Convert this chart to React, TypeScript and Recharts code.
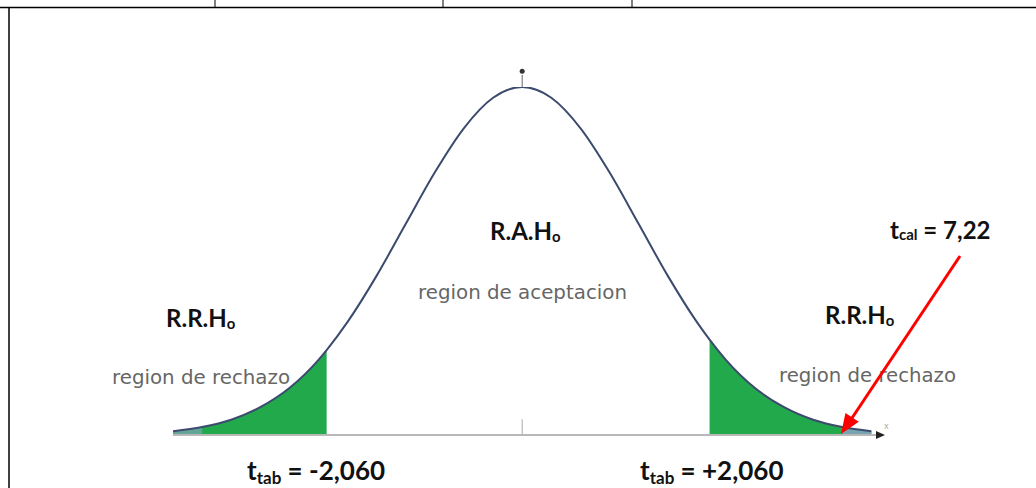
import { ComposedChart, Area, Line, XAxis, YAxis, ReferenceLine, ReferenceDot } from "recharts";

// z positions along the axis (in standard deviations) and the curve height
const zValues = [-3, -2.75, -2.5, -2.25, -2, -1.75, -1.68, -1.5, -1.25, -1, -0.75, -0.5, -0.25, 0, 0.25, 0.5, 0.75, 1, 1.25, 1.5, 1.61, 1.75, 2, 2.25, 2.5, 2.75, 3];
const density = [0.011, 0.023, 0.044, 0.08, 0.135, 0.216, 0.244, 0.325, 0.458, 0.607, 0.755, 0.882, 0.969, 1, 0.969, 0.882, 0.755, 0.607, 0.458, 0.325, 0.274, 0.216, 0.135, 0.08, 0.044, 0.023, 0.011];
const axisTicks = [-2, -1, 0, 1, 2];

// where the shaded rejection regions start
const leftCut = -1.68;
const rightCut = 1.61;
const farCut = 2.75;

const data = zValues.map((z, i) => ({
  z,
  y: density[i],
  left: z <= leftCut ? density[i] : null,
  right: z >= rightCut ? density[i] : null,
  farLeft: z <= -farCut ? density[i] : null,
  farRight: z >= farCut ? density[i] : null,
}));

const GREEN = "#22a94b";
const CURVE = "#3c4a6e";
const BOLD = "Lato, 'Open Sans', sans-serif";
const GRAY_FONT = "'DejaVu Sans', Verdana, sans-serif";

function arrowHead(x1: number, y1: number, x2: number, y2: number, len: number, half: number) {
  const dx = x2 - x1;
  const dy = y2 - y1;
  const d = Math.hypot(dx, dy);
  const ux = dx / d;
  const uy = dy / d;
  const bx = x2 - ux * len;
  const by = y2 - uy * len;
  return `${x2},${y2} ${bx - uy * half},${by + ux * half} ${bx + uy * half},${by - ux * half}`;
}

function RH({ x, y, text, size = 24 }: { x: number; y: number; text: string; size?: number }) {
  return (
    <text x={x} y={y} fontFamily={BOLD} fontWeight={700} fontSize={size} fill="#111">
      {text}
      <tspan fontSize={size * 0.62} dy={2}>o</tspan>
    </text>
  );
}

function TTab({ x, y, value }: { x: number; y: number; value: string }) {
  return (
    <text x={x} y={y} fontFamily={BOLD} fontWeight={700} fontSize={26} fill="#111">
      t
      <tspan fontSize={17} dy={4}>tab</tspan>
      <tspan dy={-4}>{` = ${value}`}</tspan>
    </text>
  );
}

export default function App() {
  return (
    <div style={{ position: "absolute", left: 0, top: 0, width: 1036, height: 488, background: "#fff", overflow: "hidden" }}>
      <ComposedChart width={1036} height={488} data={data} margin={{ top: 87, right: 153, bottom: 23, left: 173 }}>
        <XAxis
          type="number"
          dataKey="z"
          domain={[-3, 3.1]}
          ticks={axisTicks}
          tick={false}
          tickSize={4}
          tickLine={{ stroke: "#888" }}
          axisLine={{ stroke: "#b8b8b8", strokeWidth: 2 }}
          height={30}
          allowDataOverflow
        />
        <YAxis hide domain={[0, 1]} allowDataOverflow />
        <Area dataKey="left" type="monotone" stroke="none" fill={GREEN} fillOpacity={1} isAnimationActive={false} />
        <Area dataKey="right" type="monotone" stroke="none" fill={GREEN} fillOpacity={1} isAnimationActive={false} />
        <Area dataKey="farLeft" type="monotone" stroke="none" fill="#8ea3cc" fillOpacity={0.6} isAnimationActive={false} />
        <Area dataKey="farRight" type="monotone" stroke="none" fill="#8ea3cc" fillOpacity={0.8} isAnimationActive={false} />
        <Line dataKey="y" type="monotone" stroke={CURVE} strokeWidth={2} dot={false} isAnimationActive={false} />
        <ReferenceLine segment={[{ x: 0, y: 0 }, { x: 0, y: 0.045 }]} stroke="#aaa" ifOverflow="visible" />
        <ReferenceLine segment={[{ x: 0, y: 1 }, { x: 0, y: 1.035 }]} stroke="#666" ifOverflow="visible" />
        <ReferenceDot x={0} y={1.045} r={2.5} fill="#333" stroke="none" ifOverflow="visible" />
        <ReferenceDot
          x={3.1}
          y={0}
          ifOverflow="visible"
          shape={(p: any) => (
            <path d={`M${p.cx - 7},${p.cy - 4} L${p.cx + 2},${p.cy} L${p.cx - 7},${p.cy + 4} Z`} fill="#222" />
          )}
        />
      </ComposedChart>

      <svg width={1036} height={488} style={{ position: "absolute", left: 0, top: 0, pointerEvents: "none" }}>
        {/* table borders */}
        <line x1={0} y1={7.5} x2={1036} y2={7.5} stroke="#000" strokeWidth={1.5} />
        <line x1={9} y1={7} x2={9} y2={488} stroke="#000" strokeWidth={1.5} />
        <line x1={215} y1={0} x2={215} y2={8} stroke="#000" strokeWidth={1} />
        <line x1={443} y1={0} x2={443} y2={8} stroke="#000" strokeWidth={1} />
        <line x1={632} y1={0} x2={632} y2={8} stroke="#000" strokeWidth={1} />

        <RH x={490} y={240} text="R.A.H" />
        <RH x={166} y={327} text="R.R.H" />
        <RH x={825} y={324} text="R.R.H" />

        <text x={890} y={239} fontFamily={BOLD} fontWeight={700} fontSize={24} fill="#111">
          t<tspan fontSize={15} dy={1}>cal</tspan>
          <tspan dy={-1}>{" = 7,22"}</tspan>
        </text>

        <text x={418} y={299} fontFamily={GRAY_FONT} fontSize={19} fill="#666" textLength={209} lengthAdjust="spacingAndGlyphs">
          region de aceptacion
        </text>
        <text x={112} y={384} fontFamily={GRAY_FONT} fontSize={19} fill="#666" textLength={178} lengthAdjust="spacingAndGlyphs">
          region de rechazo
        </text>
        <text x={779} y={382} fontFamily={GRAY_FONT} fontSize={19} fill="#666" textLength={177} lengthAdjust="spacingAndGlyphs">
          region de rechazo
        </text>

        <text x={884} y={429} fontFamily={GRAY_FONT} fontSize={8} fill="#aaa">x</text>

        <TTab x={247} y={480} value="-2,060" />
        <TTab x={640} y={480} value="+2,060" />

        {/* red pointer to t_cal */}
        <line x1={960} y1={256} x2={850} y2={421} stroke="#f00" strokeWidth={3} />
        <polygon points={arrowHead(960, 256, 841, 434, 20, 8)} fill="#f00" />
      </svg>
    </div>
  );
}
